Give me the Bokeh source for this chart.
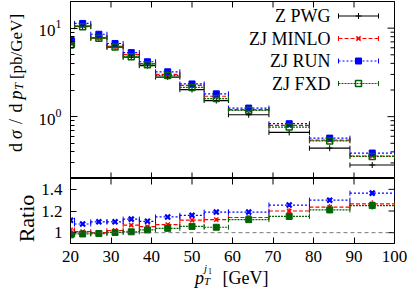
import math
from bokeh.plotting import figure
from bokeh.layouts import column
from bokeh.models import (Range1d, LinearScale, FixedTicker, LinearAxis, LogAxis,
                          Label, Span, ColumnDataSource)
from bokeh.embed import file_html
from bokeh.resources import INLINE

# ---------------- data ----------------
bin_lo = [19, 21, 25, 29, 33, 37, 41, 47, 53, 59, 69, 79, 89]
bin_hi = [21, 25, 29, 33, 37, 41, 47, 53, 59, 69, 79, 89, 100]

z_pwg    = [6.6, 10.5, 7.75, 6.1, 4.7, 3.77, 2.8, 2.02, 1.52, 1.05, 0.663, 0.44, 0.284]
zj_minlo = [6.75, 10.6, 7.75, 6.22, 5.03, 3.98, 3.01, 2.25, 1.70, 1.20, 0.796, 0.543, 0.359]
zj_run   = [7.36, 11.3, 8.53, 6.71, 5.29, 4.17, 3.21, 2.34, 1.81, 1.25, 0.832, 0.572, 0.388]
zj_fxd   = [6.47, 10.37, 7.69, 6.11, 4.74, 3.86, 2.91, 2.14, 1.60, 1.18, 0.762, 0.532, 0.355]

ratio_minlo = [1.025, 1.01, 1.0, 1.02, 1.07, 1.055, 1.075, 1.115, 1.12, 1.14, 1.2, 1.235, 1.265]
ratio_run   = [1.115, 1.08, 1.1, 1.1, 1.125, 1.105, 1.145, 1.16, 1.19, 1.19, 1.255, 1.3, 1.365]
ratio_fxd   = [0.98, 0.988, 0.992, 1.002, 1.008, 1.025, 1.04, 1.058, 1.05, 1.12, 1.15, 1.21, 1.25]
err_minlo   = [0.01, 0.01, 0.01, 0.01, 0.012, 0.012, 0.012, 0.015, 0.015, 0.02, 0.025, 0.03, 0.035]
err_run     = [0.006, 0.006, 0.006, 0.006, 0.008, 0.008, 0.008, 0.01, 0.01, 0.012, 0.015, 0.018, 0.02]
err_fxd     = [0.01, 0.01, 0.01, 0.01, 0.012, 0.012, 0.012, 0.015, 0.015, 0.02, 0.025, 0.03, 0.035]

series_names = ["Z PWG", "ZJ MINLO", "ZJ RUN", "ZJ FXD"]
x_ticks = [20, 30, 40, 50, 60, 70, 80, 90, 100]
y_ticks_main = [1, 10]
y_minor_main = [0.2, 0.3, 0.4, 0.5, 0.6, 0.7, 0.8, 0.9, 2, 3, 4, 5, 6, 7, 8, 9, 20]
y_ticks_ratio = [1.0, 1.2, 1.4]
ratio_tick_labels = {1.0: "1", 1.2: "1.2", 1.4: "1.4"}
X_MIN, X_MAX = 20, 100
Y_MIN, Y_MAX = 0.2, 20
R_MIN, R_MAX = 0.9, 1.5

# ---------------- layout constants ----------------
SERIF = "Liberation Serif"
W, H = 411, 288
LEFT, RIGHT = 70, 17
FRAME_W = W - LEFT - RIGHT
UP_H, UP_TOP = 178, 1
UP_FH = UP_H - UP_TOP
LOW_H, LOW_FH = 110, 65

styles = [
    dict(color="#000000", dash="solid", marker="cross", size=6, fill=None, lw=1.0),
    dict(color="#ff0000", dash="4 2", marker="x", size=6, fill=None, lw=1.5),
    dict(color="#0000ff", dash="2 2", marker="square", size=6, fill="#0000ff", lw=1.0),
    dict(color="#006400", dash="2 1", marker="square", size=6, fill=None, lw=1.5),
]
ratio_markers = [None,
                 dict(marker="x", size=6, fill=None, lw=1.5),
                 dict(marker="x", size=7, fill=None, lw=2.2),
                 dict(marker="square", size=6, fill="#006400", lw=1.0)]

centers = [(a + b) / 2 for a, b in zip(bin_lo, bin_hi)]


def style_axis(ax, major_in, minor_in=0, standoff=7):
    ax.major_tick_in = major_in
    ax.major_tick_out = 0
    ax.minor_tick_in = minor_in
    ax.minor_tick_out = 0
    ax.axis_line_color = "black"
    ax.major_tick_line_color = "black"
    ax.minor_tick_line_color = "black"
    ax.major_label_text_font = SERIF
    ax.major_label_text_font_size = "17px"
    ax.major_label_text_color = "black"
    ax.major_label_standoff = standoff
    return ax


def base_fig(height, x_range, y_range, ytype, top, bottom, fh):
    f = figure(width=W, height=height, x_range=x_range, y_range=y_range,
               y_axis_type=ytype, x_axis_location=None, y_axis_location=None,
               output_backend="svg", toolbar_location=None,
               min_border_left=LEFT, min_border_right=RIGHT,
               min_border_top=top, min_border_bottom=bottom)
    f.outline_line_color = "black"
    f.outline_line_width = 1
    f.background_fill_color = "white"
    f.border_fill_color = "white"
    f.extra_x_ranges = {"px": Range1d(0, FRAME_W)}
    f.extra_y_ranges = {"px": Range1d(0, fh)}
    f.extra_x_scales = {"px": LinearScale()}
    f.extra_y_scales = {"px": LinearScale()}
    for g in f.grid:
        g.visible = False
    return f


def mirror_ticks(f, xs=None, ys=None, at=None, length=6):
    # inward tick marks on the top / right frame edges (half of a clipped dash)
    if xs is not None:
        f.scatter(x=xs, y=[at] * len(xs), marker="dash", angle=math.pi / 2, size=2 * length,
                  line_color="black", line_width=1)
    else:
        f.scatter(x=[at] * len(ys), y=ys, marker="dash", size=2 * length,
                  line_color="black", line_width=1)


def draw_series(f, vals, st, mk, err=None):
    src = ColumnDataSource(dict(lo=bin_lo, hi=bin_hi, c=centers, v=vals))
    f.segment(x0="lo", y0="v", x1="hi", y1="v", source=src, line_color=st["color"],
              line_width=1.2, line_dash=st["dash"])
    for col in ("lo", "hi"):
        f.scatter(x=col, y="v", source=src, marker="dash", angle=math.pi / 2, size=5,
                  line_color=st["color"], line_width=1)
    if err is not None:
        src.data["e0"] = [v - e for v, e in zip(vals, err)]
        src.data["e1"] = [v + e for v, e in zip(vals, err)]
        f.segment(x0="c", y0="e0", x1="c", y1="e1", source=src, line_color=st["color"],
                  line_width=1.2)
    f.scatter(x="c", y="v", source=src, marker=mk["marker"], size=mk["size"],
              line_color=st["color"], fill_color=mk["fill"], line_width=mk["lw"])


def add_label(f, x, y, text, size, style="normal", align="center", baseline="alphabetic",
              angle=0.0, rng=None):
    kw = dict(x_range_name=rng, y_range_name=rng) if rng else {}
    f.add_layout(Label(x=x, y=y, text=text, text_font=SERIF, text_font_size=size,
                       text_font_style=style, text_align=align, text_baseline=baseline,
                       angle=angle, text_color="black", **kw))


# ---------------- upper panel ----------------
xr = Range1d(X_MIN, X_MAX)
up = base_fig(UP_H, xr, Range1d(Y_MIN, Y_MAX), "log", UP_TOP, 0, UP_FH)
ax = LogAxis(ticker=FixedTicker(ticks=y_ticks_main, minor_ticks=y_minor_main))
style_axis(ax, 7, 4, standoff=9)
up.add_layout(ax, "left")

for vals, st in zip([z_pwg, zj_minlo, zj_run, zj_fxd], styles):
    draw_series(up, vals, st, st)

mirror_ticks(up, ys=y_ticks_main, at=X_MAX, length=7)
mirror_ticks(up, ys=y_minor_main, at=X_MAX, length=4)
mirror_ticks(up, xs=x_ticks, at=Y_MIN, length=6)
mirror_ticks(up, xs=x_ticks, at=Y_MAX, length=6)

# legend (text on the left, sample on the right), in frame pixels
LEG_TEXT_X = 260
LEG_X0, LEG_X1 = 268, 308
LEG_ROWS = [162.5, 140, 117.5, 95]
for name, st, ly in zip(series_names, styles, LEG_ROWS):
    add_label(up, LEG_TEXT_X, ly, name, "18px", align="right", baseline="middle", rng="px")
    up.segment(x0=[LEG_X0], y0=[ly], x1=[LEG_X1], y1=[ly], x_range_name="px", y_range_name="px",
               line_color=st["color"], line_width=1.2, line_dash=st["dash"])
    up.scatter(x=[LEG_X0, LEG_X1], y=[ly, ly], x_range_name="px", y_range_name="px",
               marker="dash", angle=math.pi / 2, size=5, line_color=st["color"], line_width=1)
    up.scatter(x=[(LEG_X0 + LEG_X1) / 2], y=[ly], x_range_name="px", y_range_name="px",
               marker=st["marker"], size=st["size"], line_color=st["color"],
               fill_color=st["fill"], line_width=st["lw"])

# ---------------- ratio panel ----------------
low = base_fig(LOW_H, xr, Range1d(R_MIN, R_MAX), "linear", 0, LOW_H - LOW_FH, LOW_FH)
ax = LinearAxis(ticker=FixedTicker(ticks=y_ticks_ratio, minor_ticks=[]))
style_axis(ax, 6, 0, standoff=8)
ax.major_label_overrides = ratio_tick_labels
low.add_layout(ax, "left")
ax = LinearAxis(ticker=FixedTicker(ticks=x_ticks, minor_ticks=[]))
style_axis(ax, 6, 0, standoff=7)
low.add_layout(ax, "below")

low.add_layout(Span(location=1.0, dimension="width", line_color="#555555",
                    line_dash="4 3", line_width=0.8))
for vals, errs, st, mk in zip([ratio_minlo, ratio_run, ratio_fxd],
                              [err_minlo, err_run, err_fxd], styles[1:], ratio_markers[1:]):
    draw_series(low, vals, st, mk, errs)

mirror_ticks(low, ys=y_ticks_ratio, at=X_MAX, length=6)
mirror_ticks(low, xs=x_ticks, at=R_MAX, length=6)

# ---------------- transparent overlay (separate root) for the axis titles ----------------
ov = figure(width=W, height=H, x_range=Range1d(0, W), y_range=Range1d(0, H),
            x_axis_location=None, y_axis_location=None, output_backend="svg",
            toolbar_location=None, min_border=0, styles={"margin-top": f"-{H}px"})
ov.outline_line_color = None
ov.background_fill_color = None
ov.border_fill_color = None
for g in ov.grid:
    g.visible = False

R90 = math.pi / 2
YB = 15.5
for txt, wy, sz, stl, dx in (("d", 147, "18px", "normal", 0), ("σ", 134, "18px", "italic", 0),
                             ("/", 121, "18px", "normal", 0), ("d", 107.5, "18px", "normal", 0),
                             ("p", 94.5, "18px", "italic", 0), ("T", 86, "12px", "italic", 3),
                             ("[pb/GeV]", 46, "17px", "normal", 0)):
    add_label(ov, YB + dx, H - wy, txt, sz, style=stl, angle=R90)

add_label(ov, 25.5, H - 218, "Ratio", "22px", angle=R90)

for txt, wx, wy, sz, stl in (("p", 199, 277, "18px", "italic"), ("T", 206.5, 280, "11px", "italic"),
                             ("j", 205, 267, "11px", "italic"), ("1", 209.5, 270, "8px", "normal"),
                             ("[GeV]", 245, 277, "18px", "normal")):
    add_label(ov, wx, H - wy, txt, sz, style=stl)

layout = column(up, low)
open("out.html", "w").write(file_html([layout, ov], INLINE))
